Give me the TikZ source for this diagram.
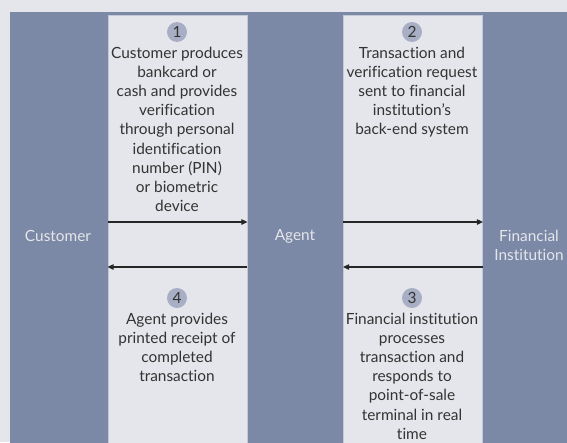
\documentclass[tikz,border=0pt]{standalone}
\usepackage{fontspec}
\setmainfont{Lato}[Ligatures=NoCommon]
\usetikzlibrary{arrows.meta}

\definecolor{paleGray}{HTML}{E5E6EB}
\definecolor{bandBlue}{HTML}{7B88A6}
\definecolor{numBlue}{HTML}{A8AFC5}
\definecolor{rimBlue}{HTML}{C4C9D7}
\definecolor{inkGray}{HTML}{333333}

\tikzset{
  lane/.style={fill=paleGray, draw=rimBlue, line width=0.8pt, minimum width=139pt,
    minimum height=440pt, inner sep=0pt, anchor=north},
  stepnum/.style={circle, fill=numBlue, minimum size=20pt, inner sep=0pt, text=inkGray},
  steptext/.style={align=center, text=inkGray, anchor=north, inner sep=0pt},
  party/.style={text=paleGray, align=center, inner sep=0pt},
  flow/.style={-{Triangle[length=6pt,width=5.5pt]}, line width=1.1pt, black!85}
}

\begin{document}
\begin{tikzpicture}[x=1pt,y=-1pt,font=\fontsize{15.4}{19.2}\selectfont]
  \useasboundingbox (0,0) rectangle (567,442);
  % page and blue band
  \fill[paleGray] (0,0) rectangle (567,442);
  \fill[bandBlue] (10,12) rectangle (567,450);

  % light lanes between the parties
  \node[lane] (lane1) at (177.5,15) {};
  \node[lane] (lane2) at (413,15) {};

  % parties
  \node[party] (cust)  at (58,236)  {Customer};
  \node[party] (agent) at (295,236) {Agent};
  \node[party] (fin)   at (529,245) {Financial\\Institution};

  % request arrows go right, replies come back left
  \foreach \n in {1,2}{
    \coordinate (go\n)   at ([yshift=-207pt]lane\n.north west);
    \coordinate (to\n)   at ([yshift=-207pt]lane\n.north east);
    \coordinate (back\n) at ([yshift=-252pt]lane\n.north east);
    \coordinate (home\n) at ([yshift=-252pt]lane\n.north west);
    \draw[flow] (go\n) -- (to\n);
    \draw[flow] (back\n) -- (home\n);
  }

  % numbered steps
  \node[stepnum] (s1) at (177,32) {1};
  \node[steptext] (t1) at (177,46.5) {Customer produces\\bankcard or\\cash and provides\\verification\\through personal\\identification\\number (PIN)\\or biometric\\device};
  \node[stepnum] (s2) at (412,32) {2};
  \node[steptext] (t2) at (412,46.5) {Transaction and\\verification request\\sent to financial\\institution’s\\back-end system};
  \node[stepnum] (s3) at (412,298) {3};
  \node[steptext] (t3) at (412,312.5) {Financial institution\\processes\\transaction and\\responds to\\point-of-sale\\terminal in real\\time};
  \node[stepnum] (s4) at (177,298) {4};
  \node[steptext] (t4) at (177,312.5) {Agent provides\\printed receipt of\\completed\\transaction};
\end{tikzpicture}
\end{document}
